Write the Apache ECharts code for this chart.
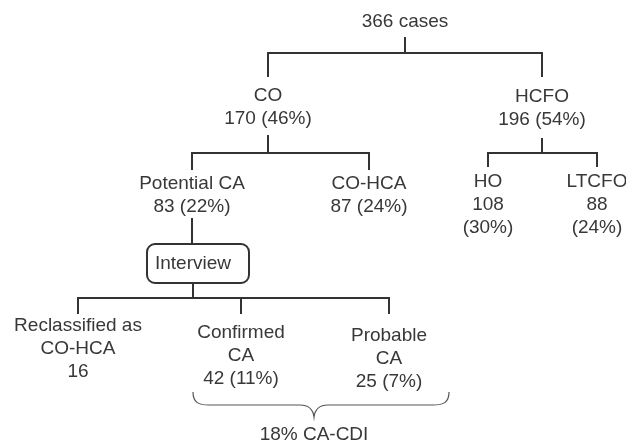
<!DOCTYPE html>
<html>
<head>
<meta charset="utf-8">
<script src="https://cdn.jsdelivr.net/npm/echarts@6/dist/echarts.min.js"></script>
<style>
  html, body { margin: 0; padding: 0; background: #fff; }
  #chart { width: 626px; height: 442px; }
</style>
</head>
<body>
<div id="chart"></div>
<script>
// case tree: labels and parent of each node
const nodeLabels = [
    '366 cases',
    'CO\n170 (46%)',
    'HCFO\n196 (54%)',
    'Potential CA\n83 (22%)',
    'CO-HCA\n87 (24%)',
    'HO\n108\n(30%)',
    'LTCFO\n88\n(24%)',
    'Interview',
    'Reclassified as\nCO-HCA\n16',
    'Confirmed\nCA\n42 (11%)',
    'Probable\nCA\n25 (7%)'
];
const parentOf = [-1, 0, 0, 1, 1, 2, 2, 3, 7, 7, 7];
const boxedNodes = [7];

// layout of the diagram, in axis units
const nodeX = [405, 268, 542, 192, 369, 488, 597, 193, 78, 241, 389];
const labelY = [22, 107, 108, 195, 195, 205, 205, 264, 349, 356, 359];
const lineTop = [0, 77, 77, 170, 170, 167, 167, 244, 314, 314, 314];
const lineBottom = [37, 135, 138, 218, 0, 0, 0, 283, 0, 0, 0];
const barY = [53, 153, 153, null, null, null, null, 298, null, null, null];
const boxLeft = 147, boxRight = 249;

// brace under confirmed + probable
const braceLabel = '18% CA-CDI';
const braceFrom = 193, braceTo = 449, braceTipX = 314;
const braceTop = 392, braceMid = 405, braceTip = 417, braceLabelY = 435;

const LINE = '#333';
const TEXT = '#383838';
const FONT = '19px "Liberation Sans", Arial, sans-serif';

const parents = [...new Set(parentOf.filter(p => p >= 0))];

function renderEdges(params, api) {
    const p = api.value(0);
    const kids = parentOf.map((q, i) => q === p ? i : -1).filter(i => i >= 0);
    const bar = barY[p] != null ? barY[p] : lineTop[kids[0]];
    const st = { stroke: LINE, lineWidth: 2, fill: null, lineJoin: 'miter', lineCap: 'butt' };
    const children = [];
    // stem from parent down to the bar
    const a = api.coord([nodeX[p], lineBottom[p]]);
    const b = api.coord([nodeX[p], bar]);
    children.push({ type: 'line', shape: { x1: a[0], y1: a[1], x2: b[0], y2: b[1] }, style: st });
    if (kids.length > 1) {
        const first = kids[0], last = kids[kids.length - 1];
        const pts = [
            api.coord([nodeX[first], lineTop[first]]),
            api.coord([nodeX[first], bar]),
            api.coord([nodeX[last], bar]),
            api.coord([nodeX[last], lineTop[last]])
        ];
        children.push({ type: 'polyline', shape: { points: pts }, style: st });
        kids.slice(1, -1).forEach(k => {
            const u = api.coord([nodeX[k], bar]);
            const v = api.coord([nodeX[k], lineTop[k]]);
            children.push({ type: 'line', shape: { x1: u[0], y1: u[1], x2: v[0], y2: v[1] }, style: st });
        });
    } else {
        const u = api.coord([nodeX[kids[0]], bar]);
        const v = api.coord([nodeX[kids[0]], lineTop[kids[0]]]);
        children.push({ type: 'line', shape: { x1: u[0], y1: u[1], x2: v[0], y2: v[1] }, style: st });
    }
    return { type: 'group', children: children };
}

function renderNodes(params, api) {
    const i = api.value(0);
    const pos = api.coord([nodeX[i], labelY[i]]);
    const children = [];
    if (boxedNodes.includes(i)) {
        const tl = api.coord([boxLeft, lineTop[i]]);
        const br = api.coord([boxRight, lineBottom[i]]);
        children.push({
            type: 'rect',
            shape: { x: tl[0], y: tl[1], width: br[0] - tl[0], height: br[1] - tl[1], r: 8 },
            style: { stroke: LINE, lineWidth: 2, fill: '#fff' }
        });
    }
    children.push({
        type: 'text',
        style: {
            text: nodeLabels[i], x: pos[0], y: pos[1],
            fill: TEXT, font: FONT, align: 'center', verticalAlign: 'middle', lineHeight: 23
        }
    });
    return { type: 'group', children: children };
}

function renderBrace(params, api) {
    const c = (x, y) => api.coord([x, y]);
    const P = (x, y) => c(x, y).join(' ');
    const d = [
        'M', P(braceFrom, braceTop),
        'C', P(braceFrom, braceMid - 2), P(braceFrom + 6, braceMid), P(braceFrom + 16, braceMid),
        'L', P(braceTipX - 14, braceMid),
        'C', P(braceTipX - 5, braceMid), P(braceTipX - 1, braceMid + 4), P(braceTipX, braceTip),
        'C', P(braceTipX + 1, braceMid + 4), P(braceTipX + 5, braceMid), P(braceTipX + 14, braceMid),
        'L', P(braceTo - 16, braceMid),
        'C', P(braceTo - 6, braceMid), P(braceTo, braceMid - 2), P(braceTo, braceTop)
    ].join(' ');
    const t = c(braceTipX, braceLabelY);
    return {
        type: 'group',
        children: [
            { type: 'path', shape: { pathData: d }, style: { stroke: '#555', lineWidth: 1.2, fill: null } },
            { type: 'text', style: { text: braceLabel, x: t[0], y: t[1], fill: TEXT, font: FONT, align: 'center', verticalAlign: 'middle' } }
        ]
    };
}

const chart = echarts.init(document.getElementById('chart'));
chart.setOption({
    animation: false,
    grid: { left: 0, right: 0, top: 0, bottom: 0 },
    xAxis: { type: 'value', min: 0, max: 626, show: false },
    yAxis: { type: 'value', min: 0, max: 442, inverse: true, show: false },
    series: [
        { type: 'custom', renderItem: renderEdges, data: parents.map(p => [p]), silent: true },
        { type: 'custom', renderItem: renderNodes, data: nodeLabels.map((_, i) => [i]), silent: true },
        { type: 'custom', renderItem: renderBrace, data: [[0]], silent: true }
    ]
});
</script>
</body>
</html>
